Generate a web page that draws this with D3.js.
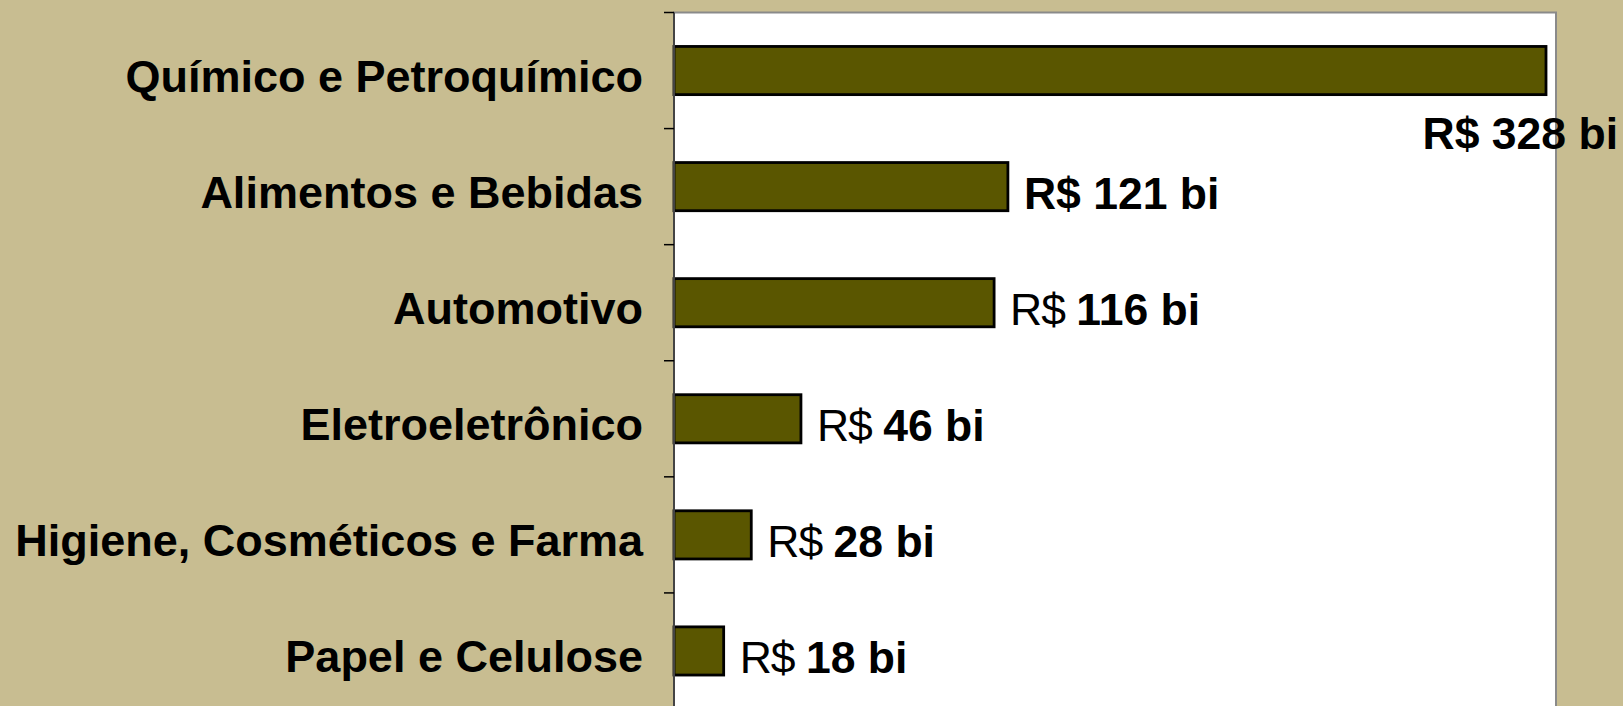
<!DOCTYPE html>
<html>
<head>
<meta charset="utf-8">
<script src="https://cdn.jsdelivr.net/npm/d3@7"></script>
<style>
  html, body { margin: 0; padding: 0; background: #c8bd91; overflow: hidden; }
  svg { display: block; }
  text { font-family: 'Liberation Sans', Arial, sans-serif; font-weight: bold; fill: #000; }
</style>
</head>
<body>
<div class="chart"></div>
<script>
'use strict'
// categories, top to bottom
var categories = [
  'Químico e Petroquímico',
  'Alimentos e Bebidas',
  'Automotivo',
  'Eletroeletrônico',
  'Higiene, Cosméticos e Farma',
  'Papel e Celulose'
]
// values in R$ bilhões
var values = [328, 121, 116, 46, 28, 18]
// whether the "R$" prefix is bold in the label
var prefixBold = [true, true, false, false, false, false]
// visible end of the value axis (first bar is cut at this value)
var xMax = 316

var width = 1623
var height = 706
var plot = { left: 674, right: 1556, top: 12.5, bottom: 709 }

var svg = d3.select('.chart').append('svg')
  .attr('width', width)
  .attr('height', height)

var x = d3.scaleLinear()
  .domain([0, xMax])
  .range([plot.left, 1546])
  .clamp(true)

// band scale for the bars, and one without padding for the tick marks
var y = d3.scaleBand()
  .domain(categories)
  .range([plot.top, plot.bottom])
  .paddingInner(0.585)
  .paddingOuter(0.2925)

var yEdge = d3.scaleBand()
  .domain(categories)
  .range([plot.top, plot.bottom])

// plot area
svg.append('rect')
  .attr('x', plot.left)
  .attr('y', plot.top)
  .attr('width', plot.right - plot.left)
  .attr('height', plot.bottom - plot.top)
  .attr('fill', '#fff')
  .attr('stroke', '#8a8a8a')
  .attr('stroke-width', 2)

var rows = categories.map(function (c, i) {
  return { name: c, value: values[i], bold: prefixBold[i] }
})

// bars
svg.append('g').selectAll('rect')
  .data(rows)
  .enter().append('rect')
  .attr('x', x(0))
  .attr('y', function (d) { return y(d.name) })
  .attr('width', function (d) { return x(d.value) - x(0) })
  .attr('height', y.bandwidth())
  .attr('fill', '#5a5600')
  .attr('stroke', '#000')
  .attr('stroke-width', 2.8)

// axis line and ticks on category boundaries
svg.append('line')
  .attr('x1', plot.left).attr('x2', plot.left)
  .attr('y1', plot.top).attr('y2', plot.bottom)
  .attr('stroke', '#444')
  .attr('stroke-width', 2)

svg.append('g').selectAll('line')
  .data(categories)
  .enter().append('line')
  .attr('x1', plot.left - 10)
  .attr('x2', plot.left)
  .attr('y1', function (d) { return yEdge(d) })
  .attr('y2', function (d) { return yEdge(d) })
  .attr('stroke', '#000')
  .attr('stroke-width', 1.5)

// category labels
svg.append('g').selectAll('text')
  .data(rows)
  .enter().append('text')
  .attr('x', 643)
  .attr('y', function (d) { return y(d.name) + y.bandwidth() / 2 + 21 })
  .attr('text-anchor', 'end')
  .style('font-size', '45px')
  .text(function (d) { return d.name })

// value labels
var labels = svg.append('g').selectAll('text')
  .data(rows)
  .enter().append('text')
  .style('font-size', '44.5px')
  .attr('text-anchor', function (d) { return d.value > xMax ? 'end' : 'start' })
  .attr('x', function (d) {
    // a cut bar gets its label under the end, running past the frame
    return d.value > xMax ? x(d.value) + 72 : x(d.value) + 16
  })
  .attr('y', function (d) {
    var c = y(d.name) + y.bandwidth() / 2
    return d.value > xMax ? c + 78 : c + 22
  })

labels.append('tspan')
  .style('font-weight', function (d) { return d.bold ? 'bold' : 'normal' })
  .style('letter-spacing', function (d) { return d.bold ? null : '-1px' })
  .text('R$ ')
labels.append('tspan')
  .text(function (d) { return d.value + ' bi' })
</script>
</body>
</html>
